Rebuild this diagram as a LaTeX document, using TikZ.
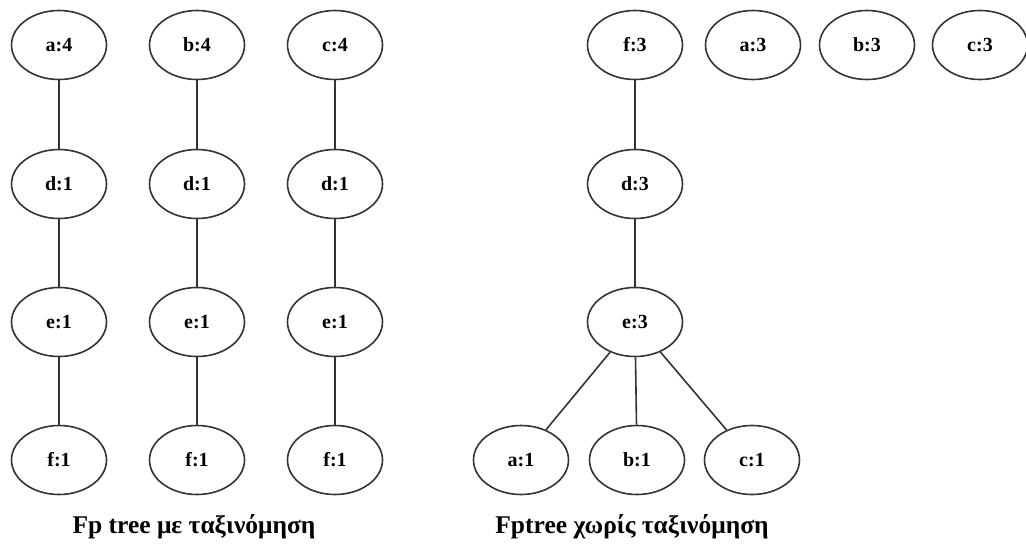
\documentclass[tikz,border=0pt]{standalone}
\usepackage{fontspec}
\setmainfont{Liberation Serif}
\usetikzlibrary{shapes.geometric}
\begin{document}
\begin{tikzpicture}[x=1pt,y=-1pt,
  item/.style={ellipse,draw=black!80,line width=1.6pt,minimum width=95pt,minimum height=69pt,inner sep=0pt,
    font=\fontsize{20}{24}\selectfont\bfseries},
  link/.style={draw=black!80,line width=1.6pt},
  caption/.style={font=\fontsize{25.5}{30}\selectfont\bfseries,inner sep=0pt,anchor=base}]
\useasboundingbox (0,0) rectangle (1026,544);
% sorted FP tree: three chains
\foreach \col/\x/\top in {1/59/a, 2/197/b, 3/335/c}{
  \node[item] (t\col) at (\x,45) {\top:4};
  \node[item] (d\col) at (\x,184) {d:1};
  \node[item] (e\col) at (\x,322) {e:1};
  \node[item] (f\col) at (\x,460) {f:1};
  \draw[link] (t\col) -- (d\col);
  \draw[link] (d\col) -- (e\col);
  \draw[link] (e\col) -- (f\col);
}
% unsorted FP tree
\node[item] (F) at (635,45) {f:3};
\node[item] (A3) at (753,45) {a:3};
\node[item] (B3) at (867,45) {b:3};
\node[item] (C3) at (980,45) {c:3};
\node[item] (D) at (635,184) {d:3};
\node[item] (E) at (635,322) {e:3};
\node[item] (A1) at (521,460) {a:1};
\node[item] (B1) at (637,460) {b:1};
\node[item] (C1) at (752,460) {c:1};
\draw[link] (F) -- (D);
\draw[link] (D) -- (E);
\draw[link] (E) -- (A1);
\draw[link] (E) -- (B1);
\draw[link] (E) -- (C1);
% captions
\node[caption] (cap1) at (194,533) {Fp tree με ταξινόμηση};
\node[caption] (cap2) at (632,533) {Fptree χωρίς ταξινόμηση};
\end{tikzpicture}
\end{document}
